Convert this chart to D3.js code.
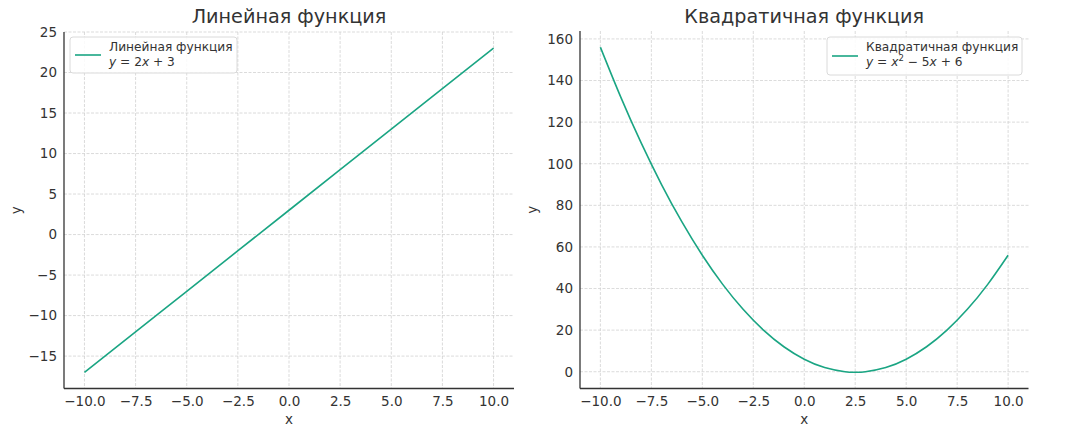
<!DOCTYPE html>
<html>
<head>
<meta charset="utf-8">
<script src="https://cdn.jsdelivr.net/npm/d3@7"></script>
<style>
  body { margin: 0; background: #fff; }
  svg text { font-family: "DejaVu Sans", sans-serif; fill: #333; }
</style>
</head>
<body>
<div id="chart"></div>
<script>
// values
const linX = [-10, -5, 0, 5, 10];
const linY = [-17, -7, 3, 13, 23];

const quadX = [-10, -9, -8, -7, -6, -5, -4, -3, -2, -1, 0, 1, 2, 2.5, 3, 4, 5, 6, 7, 8, 9, 10];
const quadY = [156, 132, 110, 90, 72, 56, 42, 30, 20, 12, 6, 2, 0, -0.25, 0, 2, 6, 12, 20, 30, 42, 56];

const xTicks = [-10, -7.5, -5, -2.5, 0, 2.5, 5, 7.5, 10];
const linYTicks = [-15, -10, -5, 0, 5, 10, 15, 20, 25];
const quadYTicks = [0, 20, 40, 60, 80, 100, 120, 140, 160];

const titles = ["Линейная функция", "Квадратичная функция"];

const W = 1080, H = 428;
const lineColor = "#1aa583";

const svg = d3.select("#chart").append("svg")
    .attr("width", W)
    .attr("height", H);

const fmtX = d => d3.format(".1f")(d).replace("-", "\u2212");
const fmtY = d => String(d).replace("-", "\u2212");

function panel(opts) {
    const { left, right, top, bottom, xs, ys, yTicks, yDomain, title, legend } = opts;

    const x = d3.scaleLinear().domain([-11, 11]).range([left, right]);
    const y = d3.scaleLinear().domain(yDomain).range([bottom, top]);

    const g = svg.append("g");

    // grid
    g.append("g").selectAll("line")
        .data(xTicks)
        .join("line")
        .attr("x1", d => x(d)).attr("x2", d => x(d))
        .attr("y1", top).attr("y2", bottom)
        .attr("stroke", "#d2d2d2").attr("stroke-width", 0.8)
        .attr("stroke-dasharray", "3,1.5");

    g.append("g").selectAll("line")
        .data(yTicks)
        .join("line")
        .attr("x1", left).attr("x2", right)
        .attr("y1", d => y(d)).attr("y2", d => y(d))
        .attr("stroke", "#d2d2d2").attr("stroke-width", 0.8)
        .attr("stroke-dasharray", "3,1.5");

    // data line
    const pts = xs.map((v, i) => [v, ys[i]]);
    g.append("path")
        .datum(pts)
        .attr("fill", "none")
        .attr("stroke", lineColor)
        .attr("stroke-width", 1.6)
        .attr("d", d3.line().x(d => x(d[0])).y(d => y(d[1])).curve(d3.curveNatural));

    // axes (spines left + bottom, no tick marks)
    const xAxis = g.append("g")
        .attr("transform", `translate(0,${bottom})`)
        .call(d3.axisBottom(x).tickValues(xTicks).tickSize(0).tickPadding(8).tickFormat(fmtX));
    const yAxis = g.append("g")
        .attr("transform", `translate(${left},0)`)
        .call(d3.axisLeft(y).tickValues(yTicks).tickSize(0).tickPadding(7).tickFormat(fmtY));

    for (const a of [xAxis, yAxis]) {
        a.select(".domain").attr("stroke", "#333").attr("stroke-width", 1.3);
        a.selectAll("text").attr("font-size", 13.5).attr("fill", "#333")
            .attr("font-family", "DejaVu Sans");
    }
    xAxis.select(".domain").attr("d", `M${left},0H${right}`);
    yAxis.select(".domain").attr("d", `M0,${top}V${bottom}`);

    // labels
    g.append("text")
        .attr("x", (left + right) / 2).attr("y", 424)
        .attr("text-anchor", "middle").attr("font-size", 13.5)
        .text("x");
    g.append("text")
        .attr("transform", `translate(${left - 43},${(top + bottom) / 2}) rotate(-90)`)
        .attr("text-anchor", "middle").attr("font-size", 13.5)
        .text("y");

    g.append("text")
        .attr("x", (left + right) / 2).attr("y", 23)
        .attr("text-anchor", "middle").attr("font-size", 19.2)
        .text(title);

    // legend
    const lg = g.append("g").attr("transform", `translate(${legend.x},${legend.y})`);
    lg.append("rect")
        .attr("width", legend.w).attr("height", legend.h)
        .attr("rx", 3)
        .attr("fill", "#fff").attr("fill-opacity", 0.85)
        .attr("stroke", "#dadada");
    lg.append("line")
        .attr("x1", 5).attr("x2", 31)
        .attr("y1", legend.h / 2).attr("y2", legend.h / 2)
        .attr("stroke", lineColor).attr("stroke-width", 1.6);
    lg.append("text")
        .attr("x", 39).attr("y", 14)
        .attr("font-size", 12.2)
        .text(title);
    const eq = lg.append("text")
        .attr("x", 39).attr("y", 29)
        .attr("font-size", 12.2);
    for (const part of legend.eq) {
        const t = eq.append("tspan").text(part.t);
        if (part.i) t.attr("font-style", "italic");
        if (part.sup) t.attr("font-size", 8.5).attr("baseline-shift", "5");
    }
}

panel({
    left: 64, right: 514, top: 32, bottom: 388.5,
    xs: linX, ys: linY, yTicks: linYTicks, yDomain: [-19, 25],
    title: titles[0],
    legend: { x: 70, y: 37, w: 167, h: 36,
        eq: [{ t: "y", i: true }, { t: " = 2" }, { t: "x", i: true }, { t: " + 3" }] }
});

panel({
    left: 580, right: 1028.5, top: 31, bottom: 388.5,
    xs: quadX, ys: quadY, yTicks: quadYTicks, yDomain: [-8.0625, 163.8125],
    title: titles[1],
    legend: { x: 827, y: 37, w: 195, h: 38,
        eq: [{ t: "y", i: true }, { t: " = " }, { t: "x", i: true }, { t: "2", sup: true }, { t: " \u2212 5" }, { t: "x", i: true }, { t: " + 6" }] }
});
</script>
</body>
</html>
